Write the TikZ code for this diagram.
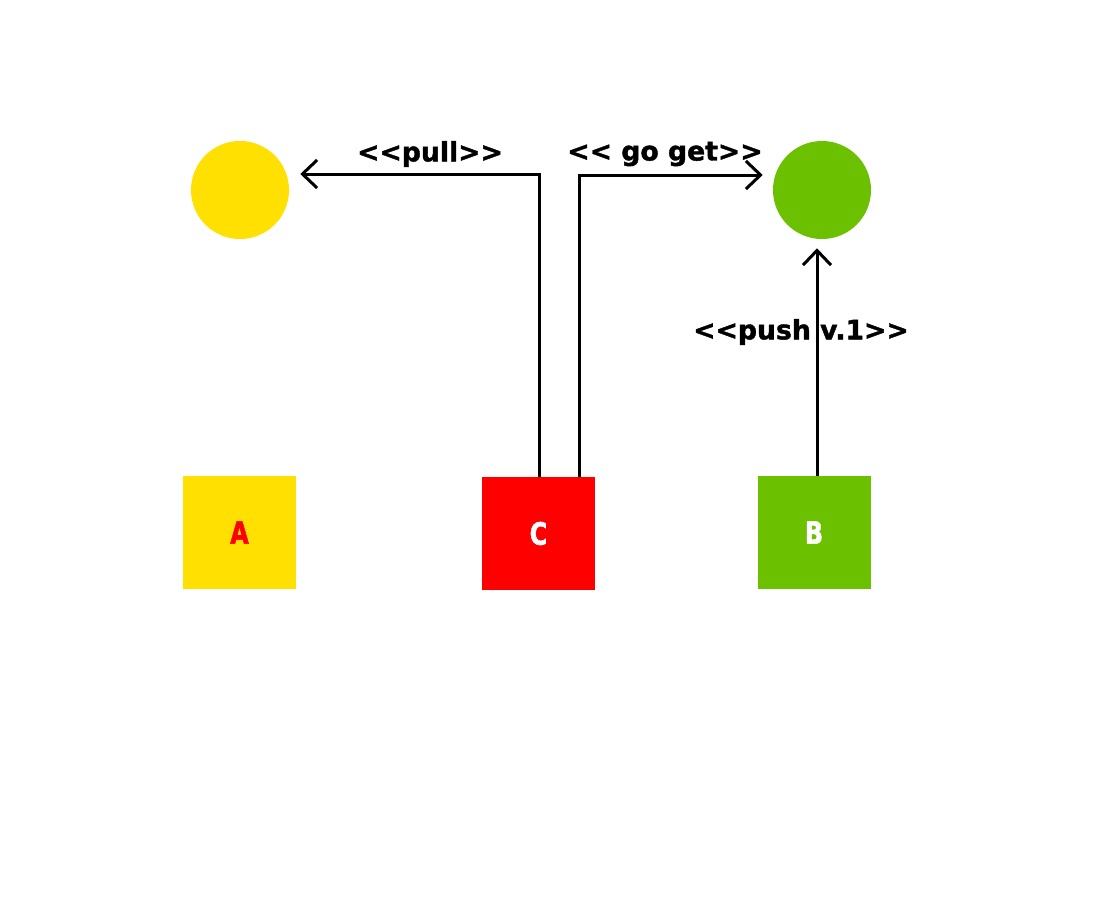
\documentclass[tikz,border=0pt]{standalone}
\usepackage{fontspec}
\usetikzlibrary{arrows.meta}
\newfontfamily\labfont{DejaVu Sans}[Ligatures=ResetAll,BoldFeatures={FakeBold=1.5}]
\newfontfamily\boxfont{DejaVu Sans}[Ligatures=ResetAll,BoldFeatures={FakeBold=2}]
\definecolor{yel}{HTML}{FFE000}
\definecolor{grn}{HTML}{6BC000}
\definecolor{rd}{HTML}{FF0000}
\begin{document}
\begin{tikzpicture}[x=0.75pt,y=-0.75pt,
  dot/.style={circle,inner sep=0pt,minimum size=73.5pt},
  sq/.style={rectangle,inner sep=0pt,minimum width=84.75pt,minimum height=84.75pt,font=\boxfont\bfseries\fontsize{23}{28}\selectfont},
  lab/.style={inner sep=0pt,font=\labfont\bfseries\fontsize{20}{24}\selectfont},
  arr/.style={line width=2.25pt,-{Straight Barb[length=11pt,width=21pt,line width=2.25pt]}}]
\useasboundingbox (0,0) rectangle (1107,900);
\fill[white] (0,0) rectangle (1107,900);
\node[dot,fill=yel] (ya) at (240,190) {};
\node[dot,fill=grn] (gb) at (822,190) {};
\node[sq,fill=yel,text=rd] (A) at (239.5,532.5) {\scalebox{0.78}[1]{A}};
\node[sq,fill=rd,text=white] (C) at (538.5,533.5) {\scalebox{0.78}[1]{C}};
\node[sq,fill=grn,text=white] (B) at (814,532.5) {\scalebox{0.78}[1]{B}};
\draw[arr] ([xshift=1.1pt]C.north) |- ([xshift=8.25pt,yshift=12pt]ya.east);
\draw[arr] ([xshift=31pt]C.north) |- ([xshift=-7.5pt,yshift=11.25pt]gb.west);
\draw[arr] ([xshift=2.25pt]B.north) -- ([xshift=-3.75pt,yshift=-6.75pt]gb.south);
\node[lab] (lpull) at (430,154) {<{}<pull>{}>};
\node[lab] (lgo) at (665,154) {<{}< go get>{}>};
\node[lab] (lpush) at (801,332) {<{}<push v.1>{}>};
\end{tikzpicture}
\end{document}
